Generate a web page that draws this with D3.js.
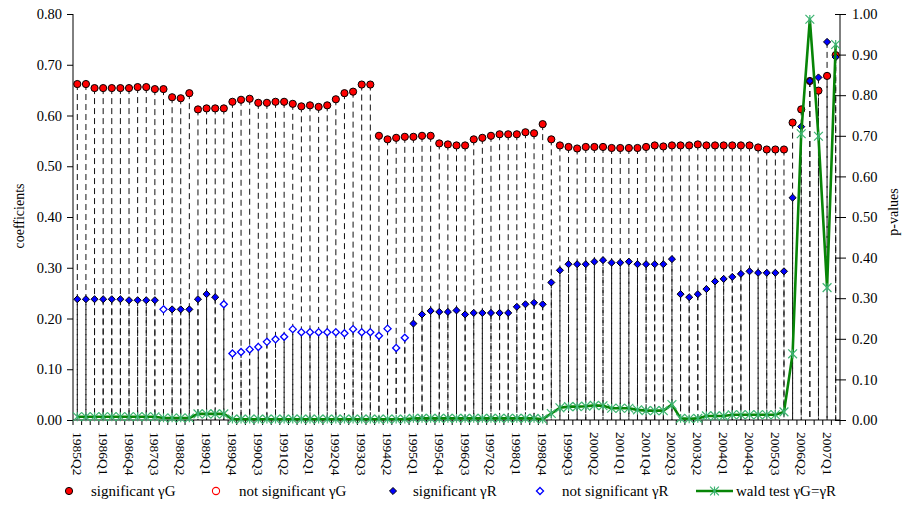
<!DOCTYPE html>
<html><head><meta charset="utf-8">
<script src="https://cdn.jsdelivr.net/npm/d3@7"></script>
<style>body{margin:0;background:#fff}svg{display:block}text{font-family:"Liberation Serif","Times New Roman",serif;fill:#000}</style>
</head><body>
<svg id="c" width="903" height="505"></svg>
<script>
// categories: quarters 1985Q2 .. 2007Q2
const quarters = [];
for (let y = 1985; y <= 2007; y++) for (let q = 1; q <= 4; q++) {
  if ((y === 1985 && q < 2) || (y === 2007 && q > 2)) continue;
  quarters.push(y + "Q" + q);
}
const tickLabels = ["1985Q2","1986Q1","1986Q4","1987Q3","1988Q2","1989Q1","1989Q4","1990Q3","1991Q2","1992Q1","1992Q4","1993Q3","1994Q2","1995Q1","1995Q4","1996Q3","1997Q2","1998Q1","1998Q4","1999Q3","2000Q2","2001Q1","2001Q4","2002Q3","2003Q2","2004Q1","2004Q4","2005Q3","2006Q2","2007Q1"];
const leftTicks = [0,0.1,0.2,0.3,0.4,0.5,0.6,0.7,0.8];
const rightTicks = [0,0.1,0.2,0.3,0.4,0.5,0.6,0.7,0.8,0.9,1.0];

const gammaG = [0.662,0.662,0.654,0.654,0.654,0.654,0.654,0.656,0.656,0.652,
0.652,0.636,0.634,0.644,0.612,0.614,0.614,0.614,0.627,0.631,
0.633,0.625,0.625,0.627,0.627,0.623,0.618,0.620,0.617,0.620,
0.632,0.644,0.647,0.661,0.661,0.560,0.553,0.556,0.558,0.558,
0.560,0.560,0.545,0.543,0.541,0.541,0.553,0.556,0.560,0.563,
0.563,0.563,0.567,0.565,0.583,0.553,0.541,0.538,0.535,0.538,
0.538,0.538,0.536,0.536,0.536,0.536,0.538,0.541,0.539,0.541,
0.541,0.541,0.543,0.541,0.541,0.541,0.541,0.541,0.541,0.537,
0.533,0.533,0.533,0.586,0.612,0.668,0.649,0.678,0.719];
const gammaR = [0.238,0.238,0.238,0.238,0.238,0.238,0.236,0.236,0.236,0.236,
0.218,0.218,0.218,0.218,0.238,0.248,0.242,0.228,0.131,0.134,
0.139,0.144,0.154,0.159,0.164,0.179,0.173,0.173,0.173,0.173,
0.173,0.171,0.179,0.173,0.173,0.166,0.180,0.142,0.162,0.190,
0.208,0.215,0.213,0.213,0.216,0.208,0.211,0.211,0.211,0.211,
0.211,0.223,0.228,0.231,0.228,0.271,0.295,0.307,0.307,0.307,
0.312,0.315,0.310,0.310,0.312,0.307,0.307,0.307,0.307,0.317,
0.248,0.242,0.248,0.258,0.273,0.278,0.282,0.288,0.293,0.290,
0.290,0.290,0.293,0.438,0.578,0.668,0.675,0.745,0.715];
const sigG = [1,1,1,1,1,1,1,1,1,1,1,1,1,1,1,1,1,1,1,1,1,1,1,1,1,1,1,1,1,1,
1,1,1,1,1,1,1,1,1,1,1,1,1,1,1,1,1,1,1,1,1,1,1,1,1,1,1,1,1,1,
1,1,1,1,1,1,1,1,1,1,1,1,1,1,1,1,1,1,1,1,1,1,1,1,1,1,1,1,1];
const sigR = [1,1,1,1,1,1,1,1,1,1,0,1,1,1,1,1,1,0,0,0,
0,0,0,0,0,0,0,0,0,0,0,0,0,0,0,0,0,0,0,1,
1,1,1,1,1,1,1,1,1,1,1,1,1,1,1,1,1,1,1,1,
1,1,1,1,1,1,1,1,1,1,1,1,1,1,1,1,1,1,1,1,
1,1,1,1,1,1,1,1,1];
const wald = [0.008,0.008,0.008,0.008,0.008,0.008,0.008,0.008,0.008,0.008,
0.005,0.005,0.005,0.005,0.015,0.015,0.015,0.015,0.002,0.002,
0.002,0.002,0.002,0.002,0.002,0.002,0.002,0.002,0.002,0.002,
0.002,0.002,0.002,0.002,0.002,0.002,0.002,0.002,0.002,0.004,
0.004,0.004,0.004,0.004,0.004,0.004,0.004,0.004,0.004,0.004,
0.004,0.004,0.004,0.004,0.002,0.016,0.030,0.033,0.033,0.034,
0.036,0.035,0.029,0.029,0.029,0.025,0.023,0.023,0.023,0.038,
0.004,0.003,0.004,0.010,0.010,0.010,0.013,0.013,0.013,0.013,
0.013,0.013,0.020,0.163,0.705,0.987,0.699,0.326,0.925];

const svg = d3.select("#c");
const L = 73, R = 840, T = 14, B = 420;
const x = d3.scaleBand().domain(quarters).range([L, R]);
const cx = d => x(d) + x.bandwidth() / 2;
const yL = d3.scaleLinear().domain([0, 0.8]).range([B, T]);
const yR = d3.scaleLinear().domain([0, 1]).range([B, T]);

const idx = d3.range(quarters.length);

// drop lines
const drops = svg.append("g").attr("stroke", "#111").attr("stroke-width", 1).attr("stroke-dasharray", "6,4");
drops.selectAll("line.g").data(idx).join("line").attr("class","g")
  .attr("x1", i => cx(quarters[i])).attr("x2", i => cx(quarters[i]))
  .attr("y1", i => yL(gammaG[i])).attr("y2", B);
drops.selectAll("line.r").data(idx).join("line").attr("class","r")
  .attr("x1", i => cx(quarters[i])).attr("x2", i => cx(quarters[i]))
  .attr("y1", i => yL(gammaR[i])).attr("y2", B);

// axes
const axL = svg.append("g").attr("transform", `translate(${L},0)`)
  .call(d3.axisLeft(yL).tickValues(leftTicks).tickFormat(d3.format(".2f")).tickSize(6).tickPadding(5));
const axR = svg.append("g").attr("transform", `translate(${R},0)`)
  .call(d3.axisRight(yR).tickValues(rightTicks).tickFormat(d3.format(".2f")).tickSize(6).tickPadding(6));
axR.selectAll(".tick line").attr("x1", -5);
[axL, axR].forEach(a => {
  a.select(".domain").attr("d", `M0,${T}V${B}`).attr("stroke", "#000");
  a.selectAll("text").style("font-size", "14.5px").style("font-family", '"Liberation Serif",serif');
});
// bottom axis
const axB = svg.append("g").attr("transform", `translate(0,${B})`);
axB.append("line").attr("x1", L).attr("x2", R).attr("stroke", "#000");
axB.selectAll("line.t").data(d3.range(quarters.length + 1)).join("line").attr("class","t")
  .attr("x1", k => L + k * x.step()).attr("x2", k => L + k * x.step())
  .attr("y1", 0).attr("y2", 5).attr("stroke", "#000");
axB.selectAll("text").data(tickLabels).join("text")
  .attr("transform", d => `translate(${cx(d)},12) rotate(90)`)
  .attr("dominant-baseline", "central")
  .style("font-size", "13.5px").text(d => d);

// red circles
const RAD = 3.6;
svg.append("g").selectAll("circle").data(idx).join("circle")
  .attr("cx", i => cx(quarters[i])).attr("cy", i => yL(gammaG[i])).attr("r", RAD)
  .attr("fill", i => sigG[i] ? "#ff0000" : "#fff").attr("stroke", i => sigG[i] ? "#000" : "#ff0000").attr("stroke-width", 1);

// blue diamonds
const dia = d3.symbol().type(d3.symbolDiamond2).size(32);
svg.append("g").selectAll("path").data(idx).join("path")
  .attr("transform", i => `translate(${cx(quarters[i])},${yL(gammaR[i])})`)
  .attr("d", dia)
  .attr("fill", i => sigR[i] ? "#0000ff" : "#fff")
  .attr("stroke", i => sigR[i] ? "#000" : "#0000ff")
  .attr("stroke-width", i => sigR[i] ? 1 : 1.3);

// wald line
const line = d3.line().x(i => cx(quarters[i])).y(i => yR(wald[i]));
svg.append("path").datum(idx).attr("d", line).attr("fill", "none").attr("stroke", "#078507").attr("stroke-width", 2.6).attr("stroke-linejoin", "round");
function star(g, s) {
  g.append("path").attr("d", `M${-s},${-s}L${s},${s}M${-s},${s}L${s},${-s}M0,${-s}V${s}`)
    .attr("stroke", "#3cb371").attr("stroke-width", 1.2).attr("fill", "none");
}
svg.append("g").selectAll("g").data(idx).join("g")
  .attr("transform", i => `translate(${cx(quarters[i])},${yR(wald[i])})`)
  .each(function () { star(d3.select(this), 4.4); });

// axis titles
svg.append("text").attr("transform", "translate(19,216) rotate(-90)")
  .attr("text-anchor", "middle").attr("dominant-baseline", "central").style("font-size", "14px").text("coefficients");
svg.append("text").attr("transform", "translate(893,212) rotate(-90)")
  .attr("text-anchor", "middle").attr("dominant-baseline", "central").style("font-size", "14px").text("p-values");

// legend
const ly = 491;
const lg = svg.append("g").style("font-size", "15px");
lg.append("circle").attr("cx", 69).attr("cy", ly).attr("r", RAD).attr("fill", "#ff0000").attr("stroke", "#000");
lg.append("text").attr("x", 91).attr("y", ly).attr("dominant-baseline", "central").text("significant γG");
lg.append("circle").attr("cx", 216).attr("cy", ly).attr("r", RAD).attr("fill", "#fff").attr("stroke", "#ff0000").attr("stroke-width", 1.1);
lg.append("text").attr("x", 239).attr("y", ly).attr("dominant-baseline", "central").text("not significant γG");
lg.append("path").attr("transform", `translate(393,${ly})`).attr("d", dia).attr("fill", "#0000ff").attr("stroke", "#000");
lg.append("text").attr("x", 413).attr("y", ly).attr("dominant-baseline", "central").text("significant γR");
lg.append("path").attr("transform", `translate(540,${ly})`).attr("d", dia).attr("fill", "#fff").attr("stroke", "#0000ff").attr("stroke-width", 1.3);
lg.append("text").attr("x", 562).attr("y", ly).attr("dominant-baseline", "central").text("not significant γR");
lg.append("line").attr("x1", 696).attr("x2", 733).attr("y1", ly).attr("y2", ly).attr("stroke", "#078507").attr("stroke-width", 2.6);
star(lg.append("g").attr("transform", `translate(714.5,${ly})`), 4.4);
lg.append("text").attr("x", 736).attr("y", ly).attr("dominant-baseline", "central").text("wald test γG=γR");
</script>
</body></html>
